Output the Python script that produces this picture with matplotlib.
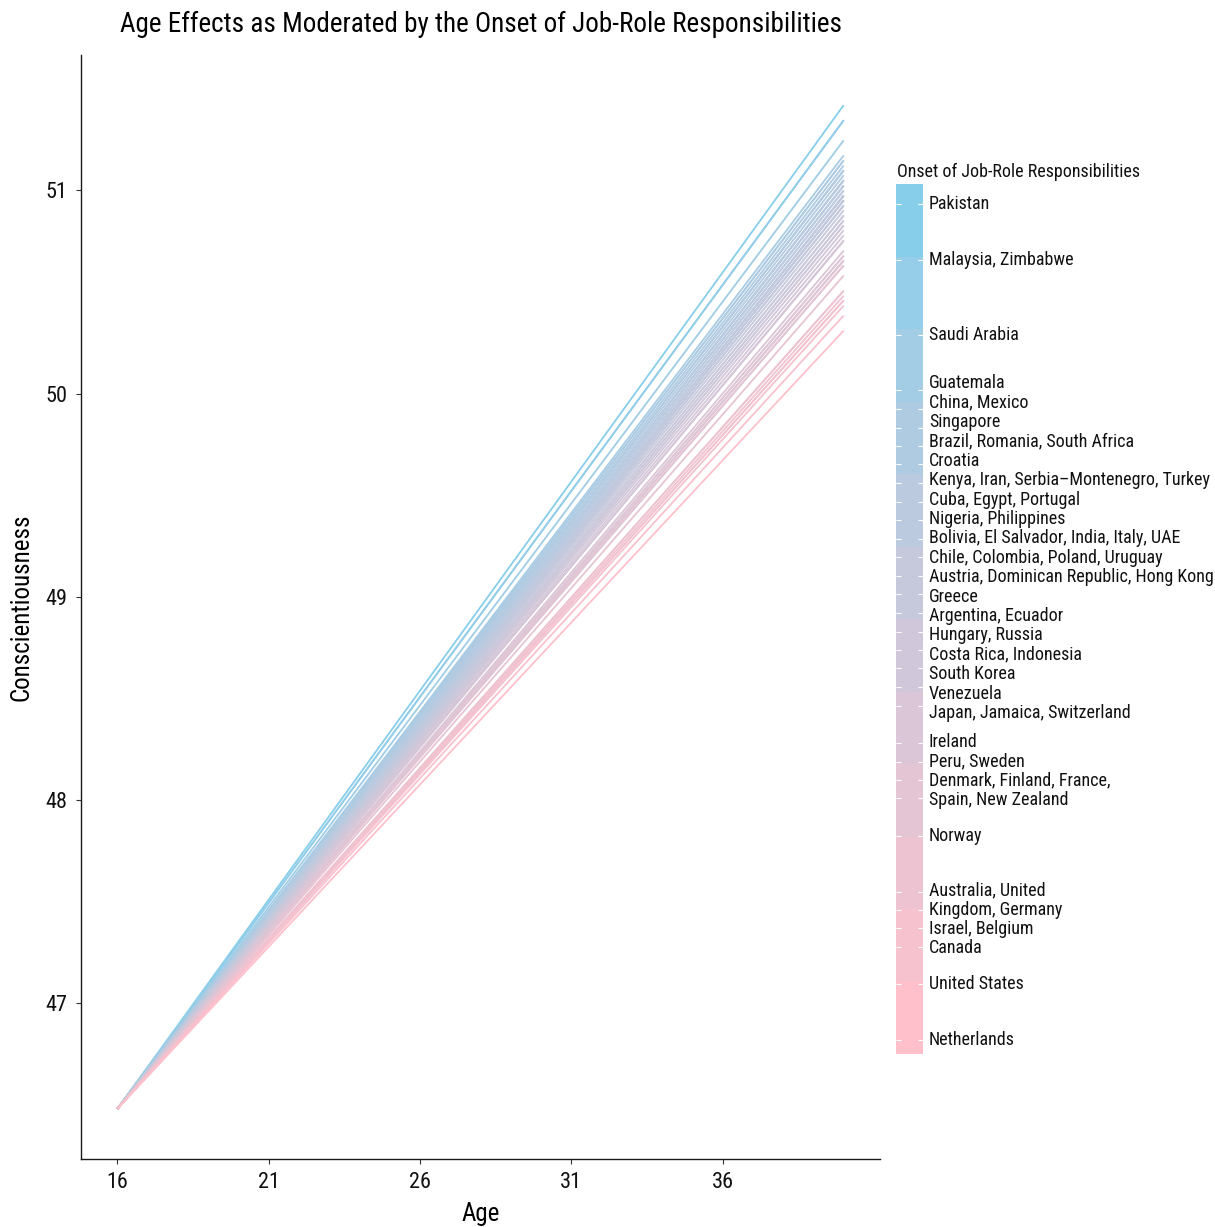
import numpy as np
import matplotlib
matplotlib.use("Agg")
import matplotlib.pyplot as plt
import matplotlib.transforms as mtransforms
from matplotlib.colors import LinearSegmentedColormap, ListedColormap, Normalize, to_rgb
from matplotlib.cm import ScalarMappable

plt.rcParams['font.family'] = ['Roboto Condensed', 'Liberation Sans Narrow', 'DejaVu Sans']

# model lines: all countries share the value at age 16, end at age 40
age_start = 16
age_end = 40
consc_at_16 = 46.478

group_labels = [
    "Pakistan", "Malaysia, Zimbabwe", "Saudi Arabia", "Guatemala", "China, Mexico",
    "Singapore", "Brazil, Romania, South Africa", "Croatia",
    "Kenya, Iran, Serbia\u2013Montenegro, Turkey", "Cuba, Egypt, Portugal",
    "Nigeria, Philippines", "Bolivia, El Salvador, India, Italy, UAE",
    "Chile, Colombia, Poland, Uruguay", "Austria, Dominican Republic, Hong Kong",
    "Greece", "Argentina, Ecuador", "Hungary, Russia", "Costa Rica, Indonesia",
    "South Korea", "Venezuela", "Japan, Jamaica, Switzerland", "Ireland",
    "Peru, Sweden", "Denmark, Finland, France,", "Spain, New Zealand", "Norway",
    "Australia, United", "Kingdom, Germany", "Israel, Belgium", "Canada",
    "United States", "Netherlands",
]
n_countries = [1, 2, 1, 1, 2, 1, 3, 1, 4, 3, 2, 5, 4, 3, 1, 2, 2, 2, 1, 1, 3, 1,
               2, 3, 2, 1, 2, 1, 2, 1, 1, 1]
consc_at_40 = [
    51.420, 51.346, 51.247, 51.173, 51.148, 51.123, 51.099, 51.075, 51.050,
    51.024, 51.000, 50.975, 50.951, 50.926, 50.902, 50.877, 50.852, 50.828,
    50.804, 50.779, 50.753, 50.704, 50.679, 50.655, 50.631, 50.581, 50.506,
    50.482, 50.459, 50.433, 50.384, 50.310,
]

x_ticks = [16, 21, 26, 31, 36]
y_ticks = [47, 48, 49, 50, 51]

low_col = "#FFC0CB"   # pink
high_col = "#87CEEB"  # skyblue
cbar_lims = (50.291, 51.447)

# gradient interpolated in Lab space, like ggplot's scale_colour_gradient
M = np.array([[0.4124, 0.3576, 0.1805], [0.2126, 0.7152, 0.0722], [0.0193, 0.1192, 0.9505]])
WHITE = np.array([0.95047, 1.0, 1.08883])


def to_lab(c):
    rgb = np.array(to_rgb(c))
    lin = np.where(rgb <= 0.04045, rgb / 12.92, ((rgb + 0.055) / 1.055) ** 2.4)
    xyz = M @ lin / WHITE
    f = np.where(xyz > 0.008856, np.cbrt(xyz), 7.787 * xyz + 16 / 116)
    return np.array([116 * f[1] - 16, 500 * (f[0] - f[1]), 200 * (f[1] - f[2])])


def from_lab(lab):
    fy = (lab[0] + 16) / 116
    f = np.array([fy + lab[1] / 500, fy, fy - lab[2] / 200])
    xyz = np.where(f ** 3 > 0.008856, f ** 3, (f - 16 / 116) / 7.787) * WHITE
    lin = np.linalg.solve(M, xyz)
    rgb = np.where(lin <= 0.0031308, 12.92 * lin, 1.055 * np.abs(lin) ** (1 / 2.4) - 0.055)
    return np.clip(rgb, 0, 1)


lab_lo, lab_hi = to_lab(low_col), to_lab(high_col)
grad = [from_lab(lab_lo + (lab_hi - lab_lo) * t) for t in np.linspace(0, 1, 256)]
cmap = LinearSegmentedColormap.from_list("pink_sky", grad)
cmap_steps = ListedColormap(cmap(np.linspace(0, 1, 12)))


def spread(vals, gap, n_iter=2000):
    # push neighbouring labels apart until they are at least `gap` apart
    pos = np.array(vals, dtype=float)
    for _ in range(n_iter):
        over = np.clip(gap - (pos[:-1] - pos[1:]), 0, None)
        if over.max() < 1e-6:
            break
        pos[:-1] += over / 2
        pos[1:] -= over / 2
    return pos


fig = plt.figure(figsize=(12.15, 12.27), dpi=100)
ax = fig.add_axes([0.0667, 0.0554, 0.6576, 0.8998])

line_norm = Normalize(min(consc_at_40), max(consc_at_40))
for n, v in zip(n_countries, consc_at_40):
    for _ in range(n):
        ax.plot([age_start, age_end], [consc_at_16, v], color=cmap(line_norm(v)),
                lw=1.3, solid_capstyle='butt')

x_rng = age_end - age_start
y_rng = max(consc_at_40) - consc_at_16
ax.set_xlim(age_start - 0.05 * x_rng, age_end + 0.05 * x_rng)
ax.set_ylim(consc_at_16 - 0.05 * y_rng, max(consc_at_40) + 0.05 * y_rng)
ax.set_xticks(x_ticks)
ax.set_yticks(y_ticks)
for s in ['top', 'right']:
    ax.spines[s].set_visible(False)
for s in ['left', 'bottom']:
    ax.spines[s].set_color('#1a1a1a')
    ax.spines[s].set_linewidth(1.0)
ax.tick_params(axis='both', length=3.6, width=0.8, color='#333333', labelsize=16,
               labelcolor='#111111')
ax.tick_params(axis='x', pad=6)
ax.tick_params(axis='y', pad=6.5)
ax.set_xlabel("Age", fontsize=18, labelpad=6)
ax.set_ylabel("Conscientiousness", fontsize=18, labelpad=8)
ax.set_title("Age Effects as Moderated by the Onset of Job-Role Responsibilities",
             fontsize=19.5, pad=16.5)

# colour bar legend
cax = fig.add_axes([0.7374, 0.1410, 0.0222, 0.7090])
sm = ScalarMappable(norm=Normalize(*cbar_lims), cmap=cmap_steps)
cbar = fig.colorbar(sm, cax=cax)
cbar.outline.set_visible(False)
cbar.set_ticks(consc_at_40)
cax.tick_params(axis='y', direction='in', left=True, right=True, length=3.5,
                width=0.8, color='white', labelleft=False, labelright=False)

cax_px = cax.get_position().height * fig.get_figheight() * fig.dpi
gap = 19.4 / cax_px * (cbar_lims[1] - cbar_lims[0])
label_pos = spread(consc_at_40, gap)
trans = mtransforms.blended_transform_factory(cax.transAxes, cax.transData)
for lab, y in zip(group_labels, label_pos):
    cax.text(1.22, y, lab, transform=trans, va='center', ha='left', fontsize=13,
             color='#111111')

fig.text(897 / 1215, 1 - 177 / 1227, "Onset of Job-Role Responsibilities",
         fontsize=13, va='baseline', ha='left', color='#111111')

fig.savefig("out.png", dpi=100)
